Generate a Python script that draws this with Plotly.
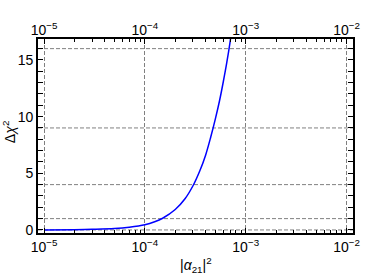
import plotly.graph_objects as go

alpha21_sq = [1e-5, 2e-5, 3e-5, 5e-5, 7e-5, 1e-4, 1.25e-4, 1.5e-4, 2e-4, 2.5e-4,
              3e-4, 3.5e-4, 4e-4, 4.5e-4, 5e-4, 5.5e-4, 6e-4, 6.5e-4, 7e-4, 7.2e-4]
delta_chi2 = [0.0, 0.02, 0.05, 0.12, 0.24, 0.46, 0.72, 1.03, 1.8, 2.75,
              3.9, 5.2, 6.6, 8.2, 9.8, 11.4, 13.1, 14.8, 16.6, 17.4]
x_major = [1e-5, 1e-4, 1e-3, 1e-2]
x_minor = [m * d for d in [1e-5, 1e-4, 1e-3] for m in range(2, 10)] + [2e-2]
y_ticks = [0, 5, 10, 15]
grid_levels = [0, 1, 4, 9, 16]
x_title = "|<i>α</i><sub>21</sub>|<sup>2</sup>"
y_title = "Δ<i>χ</i><sup>2</sup>"

FONT = "Liberation Sans, Arial, sans-serif"
xr = [-5.06, -1.936]
yr = [-0.27, 16.85]
GRID = "#808080"

fig = go.Figure()
fig.add_trace(go.Scatter(x=alpha21_sq, y=delta_chi2, mode="lines",
                         line=dict(color="#0000ff", width=1.5, shape="spline"),
                         showlegend=False, hoverinfo="skip"))
fig.add_trace(go.Scatter(x=alpha21_sq, y=delta_chi2, mode="lines", xaxis="x2",
                         line=dict(color="rgba(0,0,0,0)", width=0),
                         showlegend=False, hoverinfo="skip"))

for v in grid_levels:
    fig.add_shape(type="line", xref="paper", x0=0, x1=1, yref="y", y0=v, y1=v,
                  line=dict(color=GRID, width=1, dash="4px,2px"), layer="below")

ticktext = ["10<sup>\u2212%d</sup>" % k for k in [5, 4, 3, 2]]

fig.add_annotation(text=x_title, xref="paper", yref="paper", x=0.5, y=-0.165,
                   xanchor="center", yanchor="middle", showarrow=False,
                   font=dict(size=14))
fig.add_annotation(text=y_title, xref="paper", yref="paper", x=-0.092, y=0.52,
                   xanchor="center", yanchor="middle", showarrow=False, textangle=-90,
                   font=dict(size=14))

fig.update_layout(
    width=374, height=274,
    margin=dict(l=38, r=21, t=39, b=41, autoexpand=False),
    paper_bgcolor="white", plot_bgcolor="white",
    font=dict(family=FONT, size=14, color="black"),
    xaxis=dict(type="log", range=xr, tickmode="array", tickvals=x_major, ticktext=ticktext,
               showgrid=True, gridcolor=GRID, griddash="4px,2px", gridwidth=1,
               ticks="inside", ticklen=5, tickcolor="black", tickwidth=1,
               showline=True, linecolor="black", linewidth=1.6, mirror="allticks",
               minor=dict(tickvals=x_minor, ticks="inside", ticklen=3, tickcolor="black",
                          showgrid=False),
               zeroline=False, automargin=False),
    xaxis2=dict(type="log", range=xr, overlaying="x", side="top", tickmode="array",
                tickvals=x_major, ticktext=ticktext, showgrid=False, ticks="",
                showline=False, zeroline=False, automargin=False),
    yaxis=dict(range=yr, tickmode="array", tickvals=y_ticks, showgrid=False,
               ticks="inside", ticklen=5, tickcolor="black", tickwidth=1,
               showline=True, linecolor="black", linewidth=1.6, mirror="allticks",
               minor=dict(dtick=1, ticks="inside", ticklen=3, tickcolor="black", showgrid=False),
               zeroline=False, automargin=False),
)

fig.write_html("out.html", config={"displayModeBar": False},
               post_script="document.body.style.margin='0';document.body.style.overflow='hidden';")
